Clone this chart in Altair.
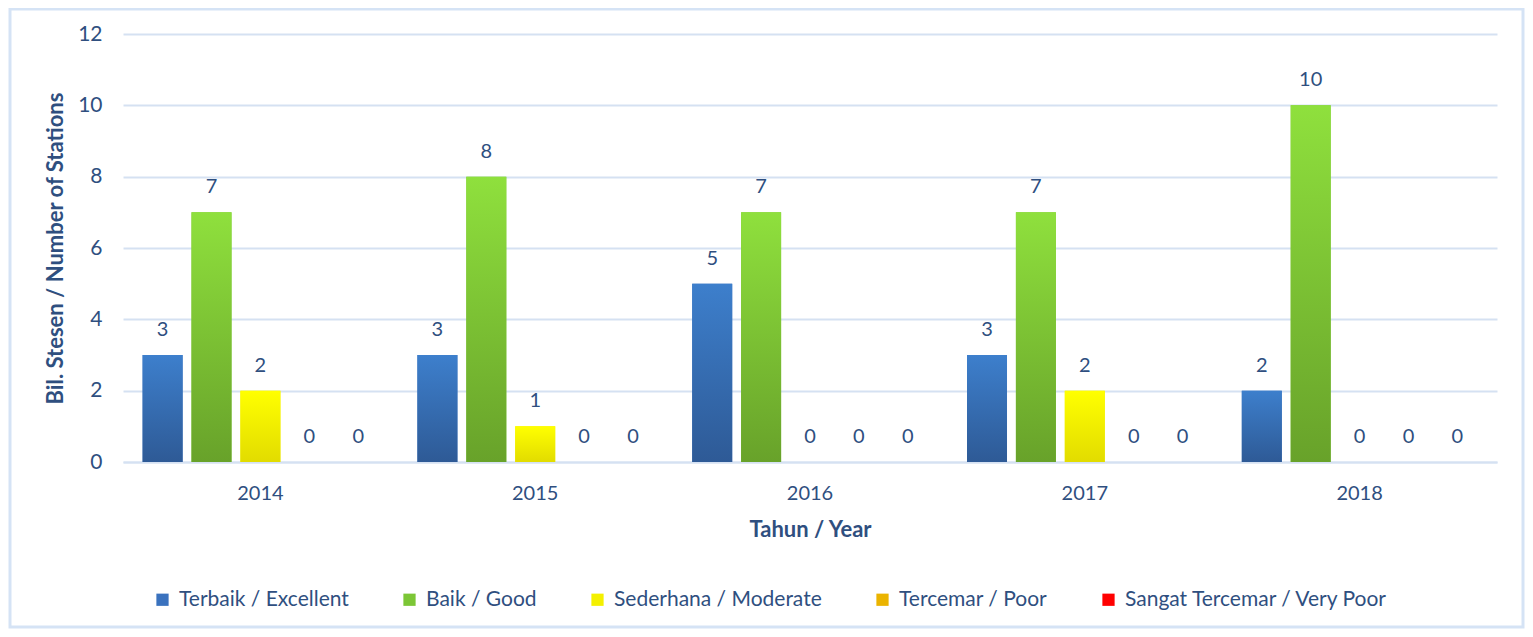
import altair as alt
import pandas as pd

years = ["2014", "2015", "2016", "2017", "2018"]
series = ["Terbaik / Excellent", "Baik / Good", "Sederhana / Moderate",
          "Tercemar / Poor", "Sangat Tercemar / Very Poor"]
excellent = [3, 3, 5, 3, 2]
good = [7, 8, 7, 7, 10]
moderate = [2, 1, 0, 2, 0]
poor = [0, 0, 0, 0, 0]
very_poor = [0, 0, 0, 0, 0]

solid = ["#3A72BE", "#7CC636", "#F4F000", "#EBB400", "#FF0000"]
grad_top = ["#3D7FCC", "#8FE03D", "#FFFF00", "#F7C600", "#FF0000"]
grad_bot = ["#2E5A96", "#68A22A", "#E2DC00", "#DE9E00", "#E00000"]

values = [excellent, good, moderate, poor, very_poor]
rows = []
for s, vals in zip(series, values):
    for y, v in zip(years, vals):
        rows.append({"Year": y, "Series": s, "Value": v})
df = pd.DataFrame(rows)

FONT = "Lato"
TXT = "#2F4F7F"
W, H = 1374, 428

x_enc = alt.X("Year:N", sort=years,
              scale=alt.Scale(paddingInner=0, paddingOuter=0),
              axis=alt.Axis(title="Tahun / Year", labelAngle=0, ticks=False,
                            domainColor="#D5E1F2", domainWidth=2,
                            labelFontSize=20, labelColor=TXT, labelFont=FONT,
                            labelPadding=21, titleFontSize=22, titleFont=FONT,
                            titleFontWeight="bold", titleColor=TXT,
                            titlePadding=16))
xo_enc = alt.XOffset("Series:N", sort=series,
                     scale=alt.Scale(domain=series, paddingInner=0.18,
                                     paddingOuter=0.4))
y_enc = alt.Y("Value:Q",
              scale=alt.Scale(domain=[0, 12]),
              axis=alt.Axis(title="Bil. Stesen / Number of Stations",
                            values=[0, 2, 4, 6, 8, 10, 12], ticks=False,
                            domain=False, gridColor="#D5E1F2", gridWidth=2,
                            labelFontSize=21, labelColor=TXT, labelFont=FONT,
                            labelPadding=21, titleFontSize=22, titleFont=FONT,
                            titleFontWeight="bold", titleColor=TXT,
                            titlePadding=10))

base = alt.Chart(df)

legend_bars = base.mark_bar(size=40).encode(
    x=x_enc, xOffset=xo_enc, y=y_enc,
    color=alt.Color("Series:N", sort=series,
                    scale=alt.Scale(domain=series, range=solid),
                    legend=alt.Legend(title=None, orient="none",
                                      direction="horizontal",
                                      legendX=29, legendY=555,
                                      symbolType="square", symbolSize=150,
                                      symbolStrokeWidth=0,
                                      labelFontSize=21, labelFont=FONT,
                                      labelColor=TXT, columnPadding=50,
                                      labelLimit=400, labelOffset=6)),
)

layers = [legend_bars]
for s, top, bot in zip(series, grad_top, grad_bot):
    layers.append(
        base.transform_filter(alt.datum.Series == s).mark_bar(
            size=40,
            color=alt.Gradient(gradient="linear", x1=0, x2=0, y1=0, y2=1,
                               stops=[alt.GradientStop(color=top, offset=0),
                                      alt.GradientStop(color=bot, offset=1)]),
        ).encode(x=x_enc, xOffset=xo_enc, y=y_enc)
    )

labels = base.mark_text(dy=-25, baseline="middle", fontSize=20, font=FONT,
                        color=TXT).encode(
    x=x_enc, xOffset=xo_enc, y=y_enc, text="Value:Q")
layers.append(labels)

frame = alt.Chart(pd.DataFrame({"a": [0]})).mark_rect(
    fill=None, stroke="#D5E3F5", strokeWidth=3).encode(
    x=alt.value(-113), x2=alt.value(W + 26),
    y=alt.value(-25), y2=alt.value(H + 165))
layers.insert(0, frame)

chart = alt.layer(*layers).properties(
    width=W, height=H,
    autosize=alt.AutoSizeParams(type="none"),
    padding={"left": 115, "top": 26, "right": 28, "bottom": 167},
).configure(background="white").configure_view(stroke=None)

chart.save("out.html", embed_options={"renderer": "svg", "actions": False})
